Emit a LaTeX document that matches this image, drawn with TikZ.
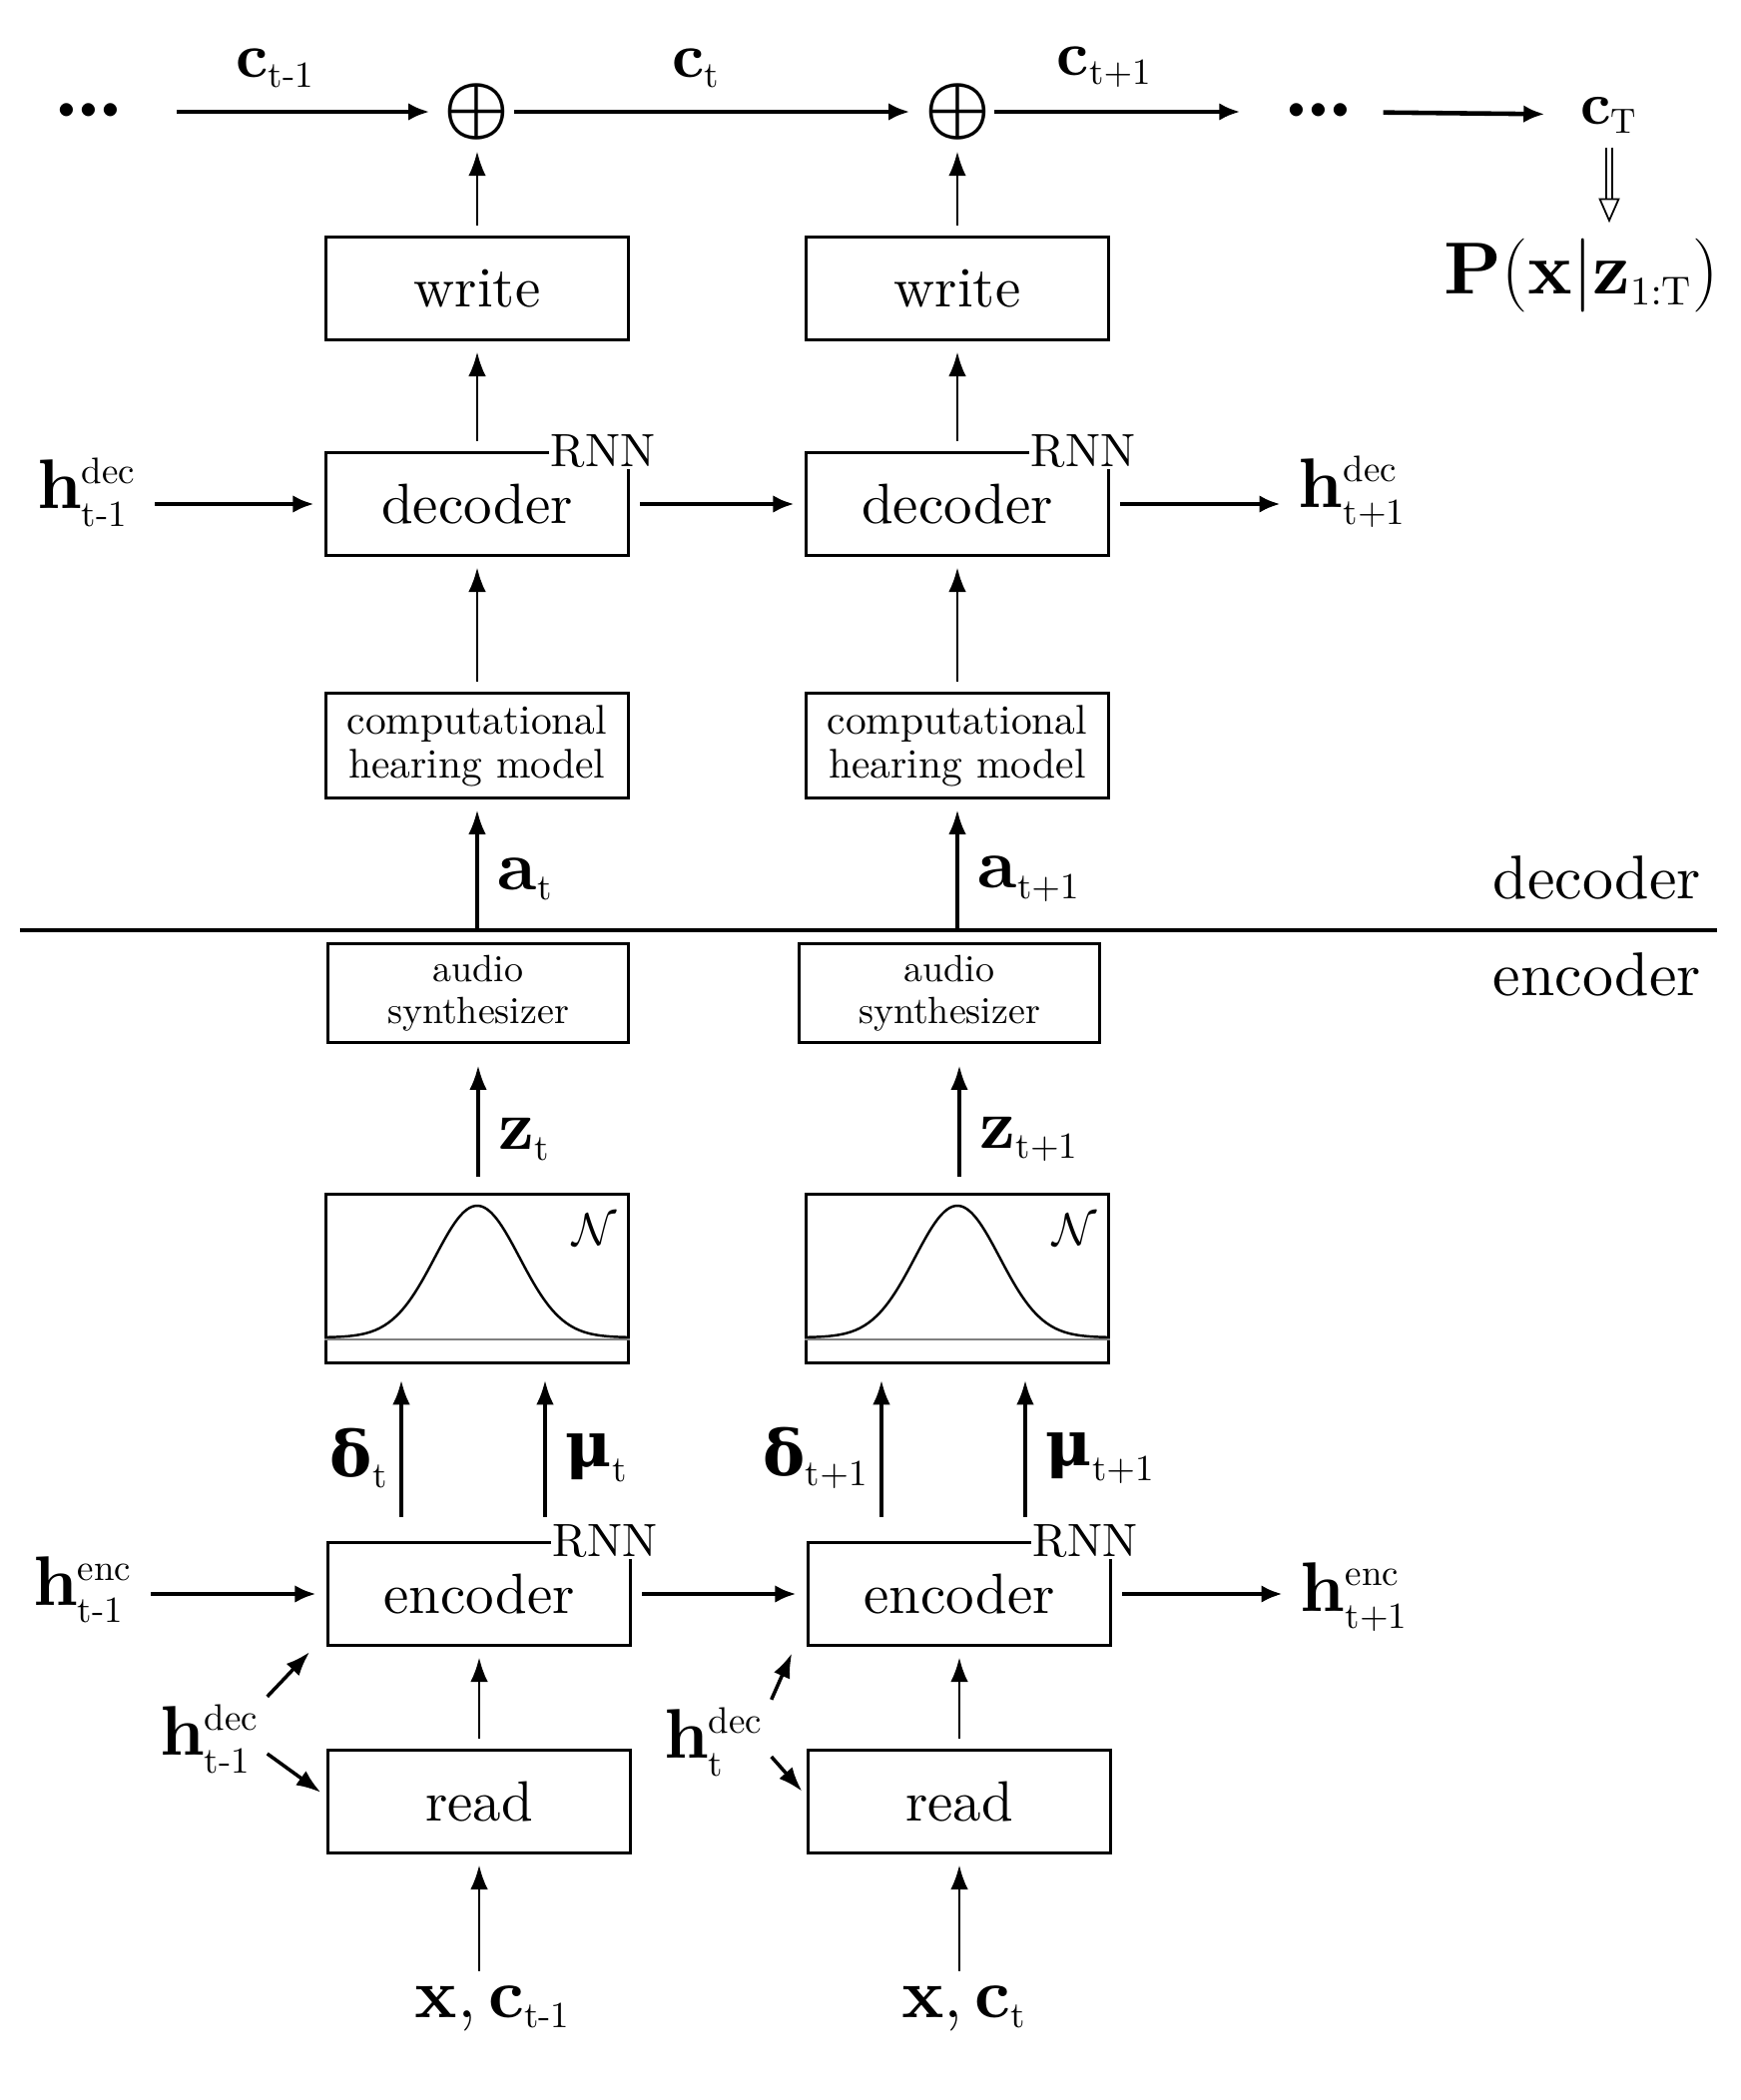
\RequirePackage{fix-cm}
\documentclass[tikz,border=0pt]{standalone}
\usepackage{amsmath}
\usepackage{fontspec}
\setmainfont{lmroman10-regular.otf}[BoldFont=lmroman10-bold.otf, ItalicFont=lmroman10-italic.otf]
\newfontfamily\grk{DejaVu Serif}
\usetikzlibrary{positioning, arrows.meta}
\DeclareMathSizes{20}{20}{10.5}{7}
\DeclareMathSizes{18}{18}{10.5}{7}
\DeclareMathSizes{17}{17}{10}{7}
\DeclareMathSizes{21}{21}{11.5}{8}
\DeclareMathSizes{24}{24}{11}{8}
\DeclareMathSizes{13}{13}{9}{7}
\newcommand{\bigdots}{${\boldsymbol{\cdot}}\mkern-1mu{\boldsymbol{\cdot}}\mkern-1mu{\boldsymbol{\cdot}}$}
\tikzset{>={Latex[length=6pt, width=5pt]}, node distance=4.81cm,
  block/.style={rectangle, draw, line width=0.8pt, minimum width=3.03cm, minimum height=1.03cm, font=\fontsize{16.2}{19}\selectfont},
  smallblock/.style={block, align=center, font=\fontsize{11.8}{12.5}\selectfont},
  synthblock/.style={block, align=center, minimum width=3.01cm, minimum height=0.95cm, font=\fontsize{10.8}{12}\selectfont},
  rnn/.style={fill=white, inner sep=0.5pt, font=\fontsize{13.3}{15}\selectfont},
  varlabel/.style={font=\fontsize{20}{24}\selectfont, inner sep=2pt},
  toplabel/.style={font=\fontsize{18}{20}\selectfont, inner sep=2pt},
  flow/.style={->, line width=1.3pt, shorten >=3pt, shorten <=3pt},
  feed/.style={->, line width=0.8pt, shorten >=3pt, shorten <=3pt, >={Latex[length=7pt, width=5pt]}}
}

\begin{document}
\begin{tikzpicture}
    \useasboundingbox (0,0) rectangle (17.43,-21.04);
    % canvas chain
    \node[font=\fontsize{24}{26}\selectfont, inner sep=2pt] (dots1) at (0.89,-1.12) {\bigdots};
    \node[font=\fontsize{21}{24}\selectfont, inner sep=0pt] (plus1) at (4.78,-1.12) {$\boldsymbol{\oplus}$};
    \node[font=\fontsize{21}{24}\selectfont, inner sep=0pt, right of=plus1] (plus2) {$\boldsymbol{\oplus}$};
    \node[font=\fontsize{24}{26}\selectfont, inner sep=2pt] (dots2) at (13.21,-1.12) {\bigdots};
    \node[toplabel, font=\fontsize{17}{20}\selectfont] (cT) at (16.12,-1.15) {$\mathbf{c}_{\mathrm{T}}$};
    \node[font=\fontsize{21}{24}\selectfont] (px) at (15.84,-2.76) {$\mathbf{P}(\mathbf{x}|\mathbf{z}_{\mathrm{1:T}})$};
    \draw[flow, shorten <=0.45cm, shorten >=4pt] (dots1) -- node[toplabel, above=0.15cm, pos=.46]{$\mathbf{c}_{\text{t-1}}$} (plus1);
    \draw[flow, shorten <=1pt, shorten >=4pt] (plus1) -- node[toplabel, above=0.15cm, pos=.45]{$\mathbf{c}_{\mathrm{t}}$} (plus2);
    \draw[flow, shorten <=1pt, shorten >=10pt] (plus2) -- node[toplabel, above=0.15cm, pos=.40]{$\mathbf{c}_{\mathrm{t+1}}$} (dots2);
    \draw[flow, shorten <=6pt, shorten >=8pt] (dots2) -- (cT);
    \draw[double, double distance=1.2pt, line width=0.5pt, -{Triangle[open, length=7pt, width=6pt]}, shorten <=2pt, shorten >=1pt] (cT) -- (cT |- px.north);

    % decoder
    \node[block] (write1) at (4.78,-2.89) {write};
    \node[block, right of=write1] (write2) {write};
    \node[block] (dec1) at (4.78,-5.05) {decoder};
    \node[block, right of=dec1] (dec2) {decoder};
    \node[rnn] (rnndec1) at ([xshift=-0.27cm]dec1.north east) {RNN};
    \node[rnn] (rnndec2) at ([xshift=-0.27cm]dec2.north east) {RNN};
    \node[smallblock] (hear1) at (4.78,-7.47) {computational\\hearing model};
    \node[smallblock, right of=hear1] (hear2) {computational\\hearing model};
    \node[varlabel] (hdecin) at (0.87,-4.93) {$\mathbf{h}^{\mathrm{dec}}_{\text{t-1}}$};
    \node[varlabel] (hdecout) at (13.55,-4.93) {$\mathbf{h}^{\mathrm{dec}}_{\mathrm{t+1}}$};
    \draw[feed] (write1) -- (plus1);
    \draw[feed] (write2) -- (plus2);
    \draw[feed] (dec1) -- (write1);
    \draw[feed] (dec2) -- (write2);
    \draw[feed] (hear1) -- (dec1);
    \draw[feed] (hear2) -- (dec2);
    \draw[flow] (hdecin.east |- dec1) -- (dec1);
    \draw[flow] (dec1) -- (dec2);
    \draw[flow] (dec2) -- (hdecout.west |- dec2);

    % decoder / encoder split
    \coordinate (sepL) at (0.2,-9.32);
    \coordinate (sepR) at (17.2,-9.32);
    \draw[line width=1.3pt] (sepL) -- (sepR);
    \node[font=\fontsize{17.6}{21}\selectfont] (declbl) at (16.0,-8.79) {decoder};
    \node[font=\fontsize{17.6}{21}\selectfont] (enclbl) at (16.0,-9.76) {encoder};
    \draw[feed, line width=1pt, shorten <=0pt] (hear1 |- sepL) -- node[varlabel, right=0.12cm, pos=.39]{$\mathbf{a}_{\mathrm{t}}$} (hear1);
    \draw[feed, line width=1pt, shorten <=0pt] (hear2 |- sepL) -- node[varlabel, right=0.12cm, pos=.39]{$\mathbf{a}_{\mathrm{t+1}}$} (hear2);

    % encoder
    \node[synthblock] (synth1) at (4.79,-9.95) {audio\\synthesizer};
    \node[synthblock, right of=synth1, node distance=4.72cm] (synth2) {audio\\synthesizer};
    \node[block, minimum height=1.69cm] (gauss1) at (4.78,-12.81) {};
    \node[block, minimum height=1.69cm, right of=gauss1] (gauss2) {};
    \draw[line width=0.7pt, shift={(gauss1.center)}] plot[domain=-1.5:1.5, samples=100, smooth] (\x, {-0.59+1.32*exp(-(\x*\x)/0.361)});
    \draw[line width=0.7pt, shift={(gauss2.center)}] plot[domain=-1.5:1.5, samples=100, smooth] (\x, {-0.59+1.32*exp(-(\x*\x)/0.361)});
    \draw[gray, line width=0.5pt] ([yshift=0.25cm]gauss1.south west) -- ([yshift=0.25cm]gauss1.south east);
    \draw[gray, line width=0.5pt] ([yshift=0.25cm]gauss2.south west) -- ([yshift=0.25cm]gauss2.south east);
    \node[font=\fontsize{13}{15}\selectfont] (norm1) at ([xshift=-0.35cm, yshift=-0.37cm]gauss1.north east) {$\mathcal{N}$};
    \node[font=\fontsize{13}{15}\selectfont] (norm2) at ([xshift=-0.35cm, yshift=-0.37cm]gauss2.north east) {$\mathcal{N}$};
    \draw[feed, line width=1pt, shorten <=4.5pt, shorten >=6pt] (synth1 |- gauss1.north) -- node[varlabel, right=0.12cm, pos=.36]{$\mathbf{z}_{\mathrm{t}}$} (synth1);
    \draw[feed, line width=1pt, shorten <=4.5pt, shorten >=6pt] ([xshift=0.1cm]synth2 |- gauss2.north) -- node[varlabel, right=0.12cm, pos=.36]{$\mathbf{z}_{\mathrm{t+1}}$} ([xshift=0.1cm]synth2.south);

    \node[block] (enc1) at (4.80,-15.97) {encoder};
    \node[block, right of=enc1] (enc2) {encoder};
    \node[rnn] (rnnenc1) at ([xshift=-0.27cm]enc1.north east) {RNN};
    \node[rnn] (rnnenc2) at ([xshift=-0.27cm]enc2.north east) {RNN};
    \node[block] (read1) at (4.80,-18.05) {read};
    \node[block, right of=read1] (read2) {read};
    \draw[feed, line width=1pt, shorten <=7pt, shorten >=4.5pt] ([xshift=-0.78cm]enc1.north) -- node[varlabel, left=0.04cm, pos=.47]{$\text{\grk\bfseries\fontsize{18}{20}\selectfont δ}_{\mathrm{t}}$} ([xshift=-0.78cm]enc1.north |- gauss1.south);
    \draw[feed, line width=1pt, shorten <=7pt, shorten >=4.5pt] ([xshift=0.66cm]enc1.north) -- node[varlabel, right=0.12cm, pos=.47]{$\text{\grk\bfseries\fontsize{18}{20}\selectfont μ}_{\mathrm{t}}$} ([xshift=0.66cm]enc1.north |- gauss1.south);
    \draw[feed, line width=1pt, shorten <=7pt, shorten >=4.5pt] ([xshift=-0.78cm]enc2.north) -- node[varlabel, left=0.04cm, pos=.47]{$\text{\grk\bfseries\fontsize{18}{20}\selectfont δ}_{\mathrm{t+1}}$} ([xshift=-0.78cm]enc2.north |- gauss2.south);
    \draw[feed, line width=1pt, shorten <=7pt, shorten >=4.5pt] ([xshift=0.66cm]enc2.north) -- node[varlabel, right=0.12cm, pos=.47]{$\text{\grk\bfseries\fontsize{18}{20}\selectfont μ}_{\mathrm{t+1}}$} ([xshift=0.66cm]enc2.north |- gauss2.south);

    \node[varlabel] (hencin) at (0.83,-15.93) {$\mathbf{h}^{\mathrm{enc}}_{\text{t-1}}$};
    \node[varlabel] (hencout) at (13.57,-16.0) {$\mathbf{h}^{\mathrm{enc}}_{\mathrm{t+1}}$};
    \node[varlabel] (hlow1) at (2.10,-17.42) {$\mathbf{h}^{\mathrm{dec}}_{\text{t-1}}$};
    \node[varlabel] (hlow2) at (7.15,-17.45) {$\mathbf{h}^{\mathrm{dec}}_{\mathrm{t}}$};
    \node[varlabel] (xc1) at (4.94,-20.12) {$\mathbf{x},\mathbf{c}_{\text{t-1}}$};
    \node[varlabel] (xc2) at (9.66,-20.12) {$\mathbf{x},\mathbf{c}_{\mathrm{t}}$};
    \draw[flow] (hencin.east |- enc1) -- (enc1);
    \draw[flow] (enc1) -- (enc2);
    \draw[flow] (enc2) -- (hencout.west |- enc2);
    \draw[feed] (read1) -- (enc1);
    \draw[feed] (read2) -- (enc2);
    \draw[feed, shorten <=2pt] (xc1.north -| read1) -- (read1);
    \draw[feed, shorten <=2pt] (xc2.north -| read2) -- (read2);
    \draw[feed, line width=1pt, shorten <=0pt, shorten >=2pt] (hlow1.north east) -- ([xshift=-0.12cm]enc1.south west);
    \draw[feed, line width=1pt, shorten <=0pt, shorten >=2pt] ([yshift=-0.15cm]hlow1.east) -- ([yshift=0.05cm]read1.west);
    \draw[feed, line width=1pt, shorten <=0pt, shorten >=2pt] (hlow2.north east) -- ([xshift=-0.12cm]enc2.south west);
    \draw[feed, line width=1pt, shorten <=0pt, shorten >=2pt] ([yshift=-0.15cm]hlow2.east) -- ([yshift=0.05cm]read2.west);
\end{tikzpicture}
\end{document}
